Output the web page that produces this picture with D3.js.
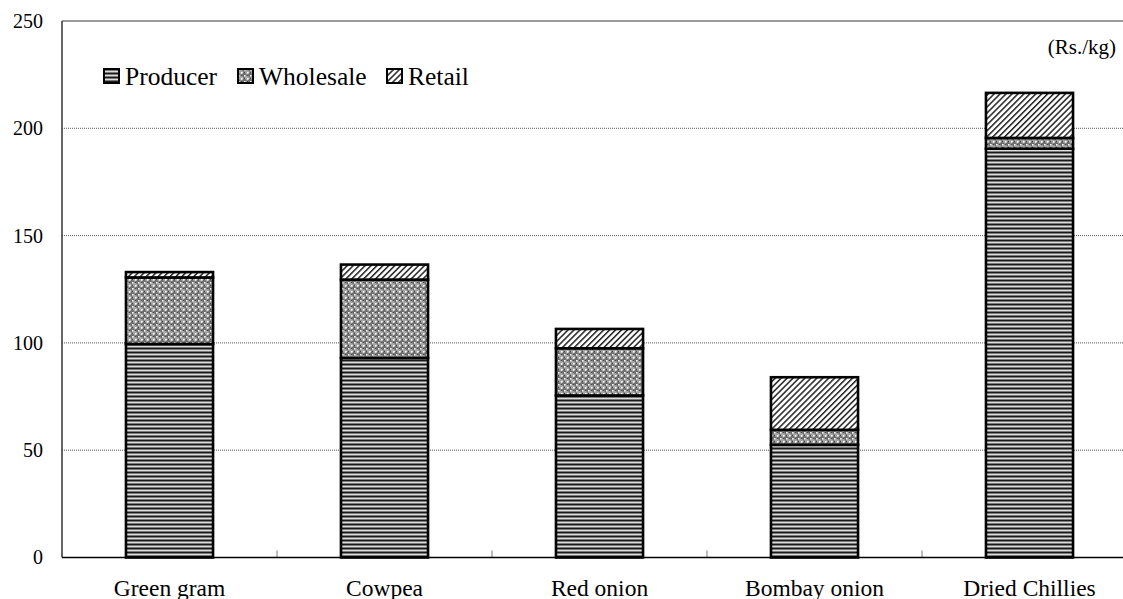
<!DOCTYPE html>
<html>
<head>
<meta charset="utf-8">
<script src="https://cdn.jsdelivr.net/npm/d3@7"></script>
<style>
  html, body { margin: 0; padding: 0; background: #fff; }
  svg { display: block; font-family: "Liberation Serif", "Times New Roman", serif; }
</style>
</head>
<body>
<svg id="chart" width="1123" height="599"></svg>
<script>
// Price build-up per crop (Rs./kg), one array per marketing stage
const categories = ["Green gram", "Cowpea", "Red onion", "Bombay onion", "Dried Chillies"];
const producer   = [99.5, 93, 75.5, 52.5, 190.5];
const wholesale  = [31, 36.5, 22, 7, 5];
const retail     = [2.5, 7, 9, 24.5, 21];
const seriesNames = ["Producer", "Wholesale", "Retail"];
const yTicks = [0, 50, 100, 150, 200, 250];
const unitLabel = "(Rs./kg)";

const rows = categories.map((c, i) => ({
  category: c, Producer: producer[i], Wholesale: wholesale[i], Retail: retail[i]
}));

const svg = d3.select("#chart");
const W = 1123, H = 599;
const plotLeft = 62, plotTop = 21, plotBottom = 557.5;
const bandStep = 215;
const serif = "'Liberation Serif', 'Times New Roman', serif";

// Hatch fills for the three stages
const defs = svg.append("defs");

const pProd = defs.append("pattern").attr("id", "pat-producer")
  .attr("patternUnits", "userSpaceOnUse").attr("width", 8).attr("height", 4);
pProd.append("rect").attr("width", 8).attr("height", 4).attr("fill", "#dcdcdc");
pProd.append("rect").attr("y", 0).attr("width", 8).attr("height", 1).attr("fill", "#1a1a1a");
pProd.append("rect").attr("y", 1).attr("width", 8).attr("height", 1).attr("fill", "#7a7a7a");
pProd.append("rect").attr("y", 3).attr("width", 8).attr("height", 1).attr("fill", "#7a7a7a");

const pWh = defs.append("pattern").attr("id", "pat-wholesale")
  .attr("patternUnits", "userSpaceOnUse").attr("width", 6).attr("height", 6);
pWh.append("rect").attr("width", 6).attr("height", 6).attr("fill", "#6e6e6e");
pWh.append("path").attr("d", "M0,3L3,0L6,3L3,6Z").attr("fill", "#a4a4a4");
pWh.append("rect").attr("x", 0).attr("y", 0).attr("width", 1.6).attr("height", 1.6).attr("fill", "#fff");
pWh.append("rect").attr("x", 3).attr("y", 3).attr("width", 1.6).attr("height", 1.6).attr("fill", "#fff");
pWh.append("rect").attr("x", 3).attr("y", 0).attr("width", 1).attr("height", 1).attr("fill", "#444");
pWh.append("rect").attr("x", 0).attr("y", 3).attr("width", 1).attr("height", 1).attr("fill", "#444");

const pRet = defs.append("pattern").attr("id", "pat-retail")
  .attr("patternUnits", "userSpaceOnUse").attr("width", 4.2).attr("height", 6)
  .attr("patternTransform", "rotate(45)");
pRet.append("rect").attr("width", 4.2).attr("height", 6).attr("fill", "#fff");
pRet.append("rect").attr("x", 0).attr("width", 1.5).attr("height", 6).attr("fill", "#222");

const fills = { Producer: "url(#pat-producer)", Wholesale: "url(#pat-wholesale)", Retail: "url(#pat-retail)" };

// Scales
const x = d3.scaleBand().domain(categories)
  .range([plotLeft, plotLeft + bandStep * categories.length]).paddingInner(0).paddingOuter(0);
const y = d3.scaleLinear().domain([0, 250]).range([plotBottom, plotTop]);

// Gridlines
svg.append("g").selectAll("line")
  .data(yTicks.filter(t => t > 0 && t < 250))
  .join("line")
  .attr("x1", plotLeft).attr("x2", W)
  .attr("y1", d => y(d)).attr("y2", d => y(d))
  .attr("stroke", "#555").attr("stroke-width", 1).attr("stroke-dasharray", "1,1");

// Plot frame: top border
svg.append("line").attr("x1", plotLeft).attr("x2", W).attr("y1", plotTop).attr("y2", plotTop)
  .attr("stroke", "#7a7a7a").attr("stroke-width", 1.5);

// Stacked bars
const stack = d3.stack().keys(seriesNames);
const layers = stack(rows);
const barW = x.bandwidth() * 0.405;

svg.append("g").selectAll("g")
  .data(layers)
  .join("g")
  .attr("fill", d => fills[d.key])
  .selectAll("rect")
  .data(d => d)
  .join("rect")
  .attr("x", d => x(d.data.category) + (x.bandwidth() - barW) / 2)
  .attr("width", barW)
  .attr("y", d => y(d[1]))
  .attr("height", d => y(d[0]) - y(d[1]))
  .attr("stroke", "#000")
  .attr("stroke-width", 2.6);

// Y axis labels
const yAxis = svg.append("g").attr("transform", `translate(${plotLeft},0)`)
  .call(d3.axisLeft(y).tickValues(yTicks).tickSize(0).tickPadding(19));
yAxis.attr("font-family", serif);
yAxis.select(".domain").remove();
yAxis.selectAll("text").attr("font-size", 20).attr("fill", "#000");

svg.append("line").attr("x1", plotLeft).attr("x2", plotLeft).attr("y1", plotTop).attr("y2", plotBottom)
  .attr("stroke", "#333").attr("stroke-width", 1.5);

// X axis: labels and band-boundary ticks
const xAxis = svg.append("g").attr("transform", `translate(0,${plotBottom})`)
  .call(d3.axisBottom(x).tickSize(0));
xAxis.attr("font-family", serif);
xAxis.select(".domain").remove();
xAxis.selectAll("text").attr("font-size", 23.5).attr("fill", "#000")
  .attr("y", 38).attr("dy", null);

svg.append("g").selectAll("line")
  .data(categories.slice(1))
  .join("line")
  .attr("x1", d => x(d)).attr("x2", d => x(d))
  .attr("y1", plotBottom).attr("y2", plotBottom - 7)
  .attr("stroke", "#777").attr("stroke-width", 1);

svg.append("line").attr("x1", plotLeft).attr("x2", W).attr("y1", plotBottom).attr("y2", plotBottom)
  .attr("stroke", "#000").attr("stroke-width", 1.5);

// Unit label
svg.append("text").attr("x", 1116).attr("y", 54).attr("text-anchor", "end")
  .attr("font-family", serif).attr("font-size", 21).text(unitLabel);

// Legend
const legendX = [104, 238, 387];
const legend = svg.append("g").attr("font-family", serif).selectAll("g")
  .data(seriesNames)
  .join("g")
  .attr("transform", (d, i) => `translate(${legendX[i]},69)`);
legend.append("rect").attr("width", 15).attr("height", 14)
  .attr("fill", d => fills[d]).attr("stroke", "#000").attr("stroke-width", 2);
legend.append("text").attr("x", 21).attr("y", 16).attr("font-size", 25.5).text(d => d);
</script>
</body>
</html>
